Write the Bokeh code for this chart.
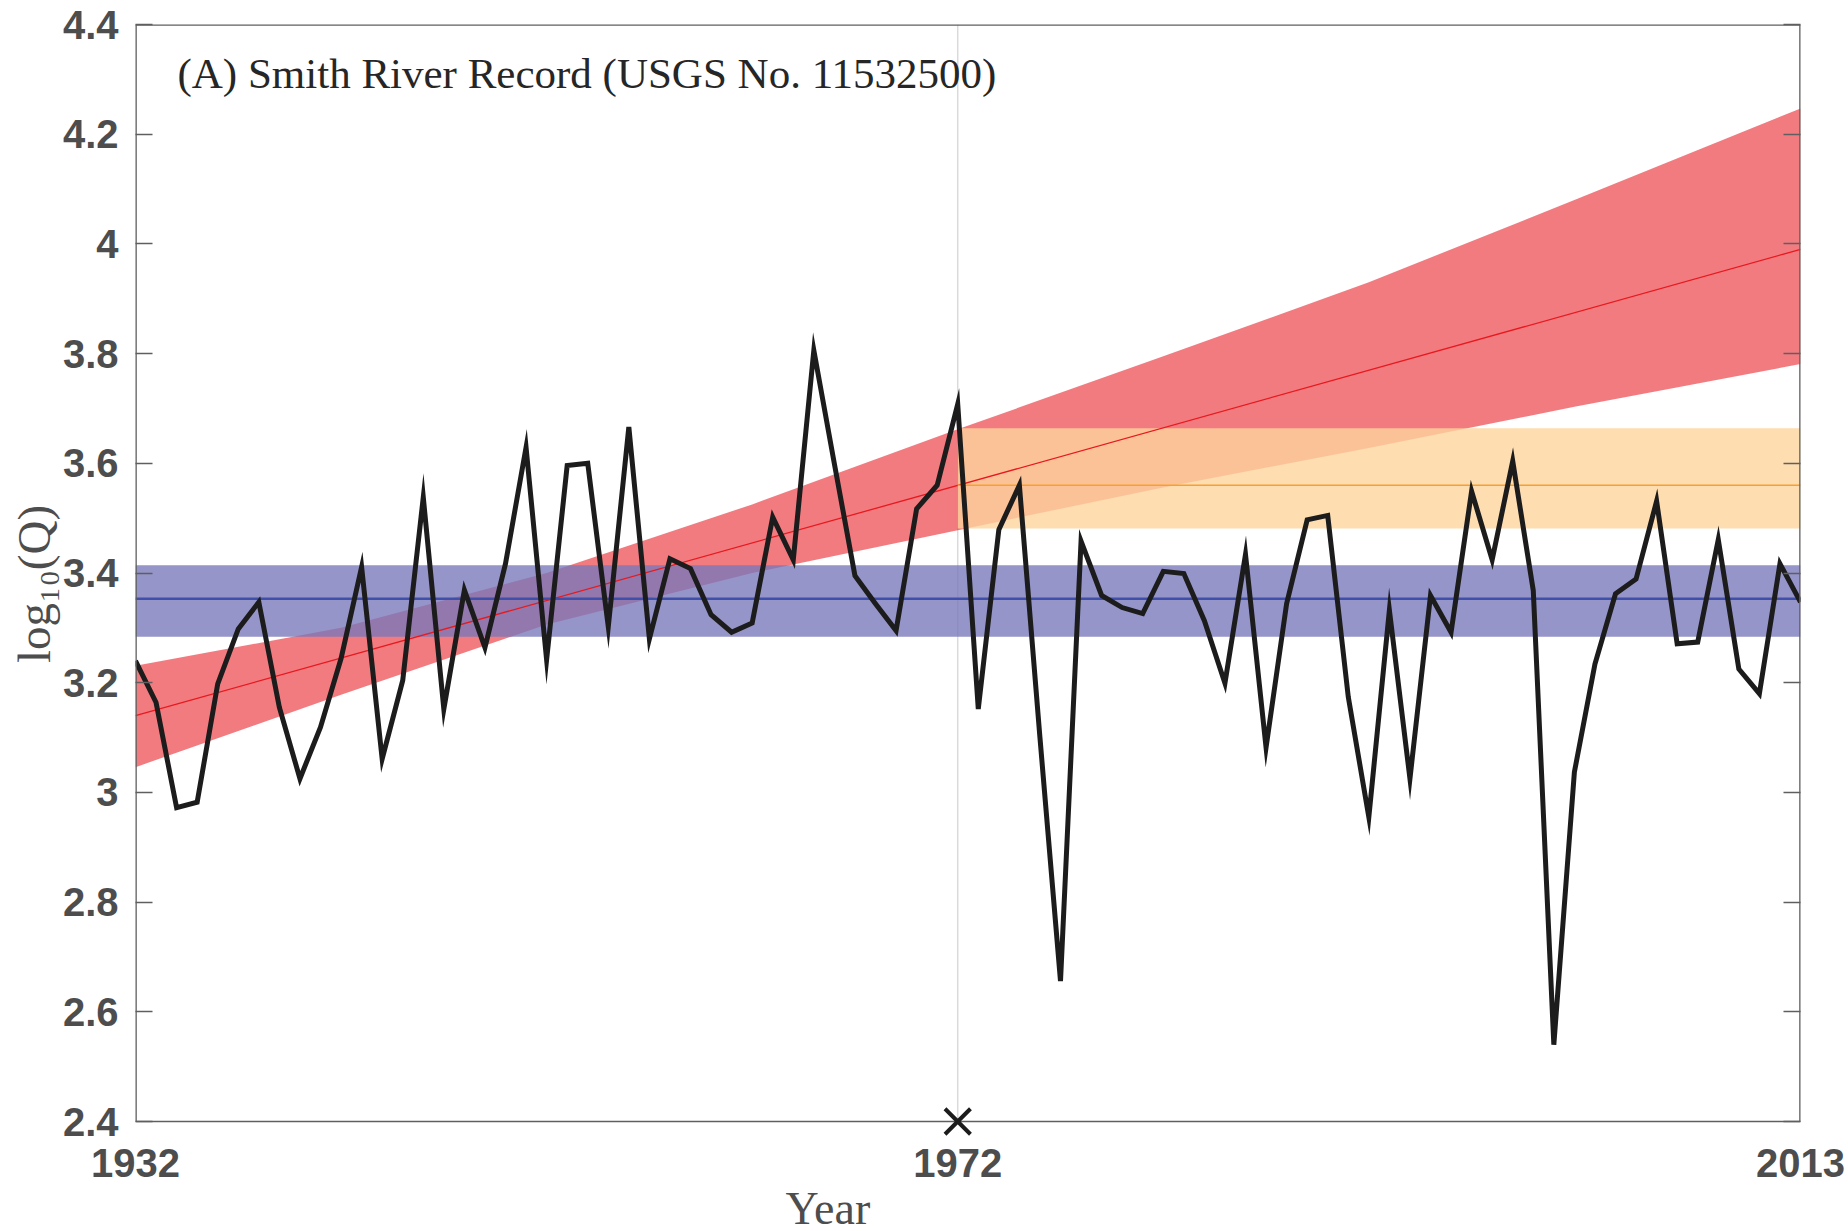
from bokeh.plotting import figure
from bokeh.models import Range1d, LinearAxis, FixedTicker, Label, Title
from bokeh.embed import file_html
from bokeh.resources import INLINE

# ---- data ----
years = list(range(1932, 2014))
log_q = [3.240, 3.164, 2.972, 2.982, 3.198, 3.298, 3.347, 3.155, 3.025, 3.119,
         3.244, 3.411, 3.061, 3.204, 3.538, 3.152, 3.369, 3.264, 3.417, 3.629,
         3.242, 3.596, 3.600, 3.302, 3.666, 3.280, 3.426, 3.408, 3.324, 3.292,
         3.309, 3.502, 3.424, 3.806, 3.599, 3.395, 3.344, 3.295, 3.517, 3.560,
         3.708, 3.152, 3.479, 3.560, 3.100, 2.656, 3.458, 3.359, 3.337, 3.326,
         3.403, 3.399, 3.313, 3.199, 3.434, 3.082, 3.344, 3.497, 3.505, 3.174,
         2.955, 3.332, 3.025, 3.359, 3.292, 3.549, 3.424, 3.604, 3.368, 2.540,
         3.037, 3.234, 3.362, 3.389, 3.531, 3.271, 3.274, 3.461, 3.225, 3.180,
         3.417, 3.347]

# nonstationary (trend) fit and its band
trend_years = [1932, 2013]
trend_vals = [3.14, 3.99]
band_years = [1932, 1942, 1952, 1962, 1972, 1982, 1992, 2002, 2013]
band_upper = [3.231, 3.300, 3.400, 3.525, 3.662, 3.795, 3.930, 4.080, 4.247]
band_lower = [3.046, 3.178, 3.306, 3.400, 3.478, 3.556, 3.628, 3.703, 3.781]

# stationary fit, full record
stat_years = [1932, 2013]
stat_mean = 3.353
stat_low, stat_high = 3.284, 3.414

# stationary fit after change point
post_years = [1972, 2013]
post_mean = 3.560
post_low, post_high = 3.481, 3.664

change_year = 1972
x_lo, x_hi = 1932, 2013
y_lo, y_hi = 2.4, 4.4
x_ticks = [1932, 1972, 2013]
y_ticks = [2.4, 2.6, 2.8, 3.0, 3.2, 3.4, 3.6, 3.8, 4.0, 4.2, 4.4]
y_labels = {2.4: "2.4", 2.6: "2.6", 2.8: "2.8", 3.0: "3", 3.2: "3.2", 3.4: "3.4",
            3.6: "3.6", 3.8: "3.8", 4.0: "4", 4.2: "4.2", 4.4: "4.4"}
title_text = "(A) Smith River Record (USGS No. 11532500)"

# frame is extended a little below 2.4 so the change-point marker is not clipped
px_per_unit = 1097 / (y_hi - y_lo)
ext_px = 22
y_start = y_lo - ext_px / px_per_unit

p = figure(frame_width=1665, frame_height=1097 + ext_px,
           x_range=Range1d(x_lo, x_hi), y_range=Range1d(y_start, y_hi),
           output_backend="svg", toolbar_location=None,
           min_border_left=135, min_border_right=48, min_border_top=24, min_border_bottom=88)
p.background_fill_color = "white"
p.border_fill_color = "white"
p.xgrid.visible = False
p.ygrid.visible = False
p.outline_line_color = None

axis_col = "#5f5f5f"
p.add_layout(LinearAxis(), "right")

p.xaxis.ticker = FixedTicker(ticks=x_ticks)
for ax in p.yaxis:
    ax.ticker = FixedTicker(ticks=y_ticks)

for ax in p.axis:
    ax.axis_line_color = None
    ax.major_tick_line_color = axis_col
    ax.major_tick_line_width = 1.3
    ax.major_tick_in = 17
    ax.major_tick_out = 0
    ax.minor_tick_line_color = None
    ax.major_label_text_font = "Liberation Sans"
    ax.major_label_text_font_style = "bold"
    ax.major_label_text_font_size = "40px"
    ax.major_label_text_color = "#4d4d4d"

bottom = p.below[0]
bottom.major_tick_in = 0
bottom.major_label_standoff = 5
left = p.left[0]
left.major_label_overrides = y_labels
left.major_label_standoff = 17
left.axis_label = "log\u2081\u2080(Q)"
left.axis_label_text_font = "Liberation Serif"
left.axis_label_text_font_style = "normal"
left.axis_label_text_font_size = "47px"
left.axis_label_text_color = "#4d4d4d"
left.axis_label_standoff = 0
right = p.right[0]
right.major_label_overrides = {t: "" for t in y_ticks}
right.major_label_text_font_size = "1px"
right.major_label_standoff = 0

p.add_layout(Title(text="Year", align="left", offset=650, standoff=2,
                   text_font="Liberation Serif", text_font_style="normal",
                   text_font_size="46px", text_color="#4d4d4d"), "below")

# change-point line
p.line([change_year, change_year], [y_lo, y_hi], line_color="#dadada", line_width=1.5)

# red trend band
xs = band_years + band_years[::-1]
ys = band_upper + band_lower[::-1]
p.patch(xs, ys, fill_color="#E9232B", fill_alpha=0.6, line_color=None)

# blue stationary band
p.varea(x=stat_years, y1=[stat_low] * 2, y2=[stat_high] * 2,
        fill_color="#7777BA", fill_alpha=0.78)
# orange post-change band
p.varea(x=post_years, y1=[post_low] * 2, y2=[post_high] * 2,
        fill_color="#FED49C", fill_alpha=0.8)

# fit lines
p.line(trend_years, trend_vals, line_color="#E8191E", line_width=1.3)
p.line(post_years, [post_mean] * 2, line_color="#F7A02C", line_width=1.6)
p.line(stat_years, [stat_mean] * 2, line_color="#4050A8", line_width=2.5)

# observed record
p.line(years, log_q, line_color="#1c1c1c", line_width=5, line_join="miter")

# axes box
p.segment(x0=[x_lo, x_lo, x_hi, x_lo], y0=[y_lo, y_hi, y_lo, y_lo],
          x1=[x_hi, x_hi, x_hi, x_lo], y1=[y_lo, y_hi, y_hi, y_hi],
          line_color=axis_col, line_width=[1.3, 2.6, 2.6, 2.6])

# change-point marker
p.scatter(x=[change_year], y=[y_lo], marker="x", size=36, line_width=4, line_color="#1c1c1c")

# panel title
p.add_layout(Label(x=1934.04, y=4.3107, text=title_text, text_font="Liberation Serif",
                   text_font_size="43px", text_color="#262626", text_baseline="alphabetic"))

open("out.html", "w").write(file_html(p, INLINE))
